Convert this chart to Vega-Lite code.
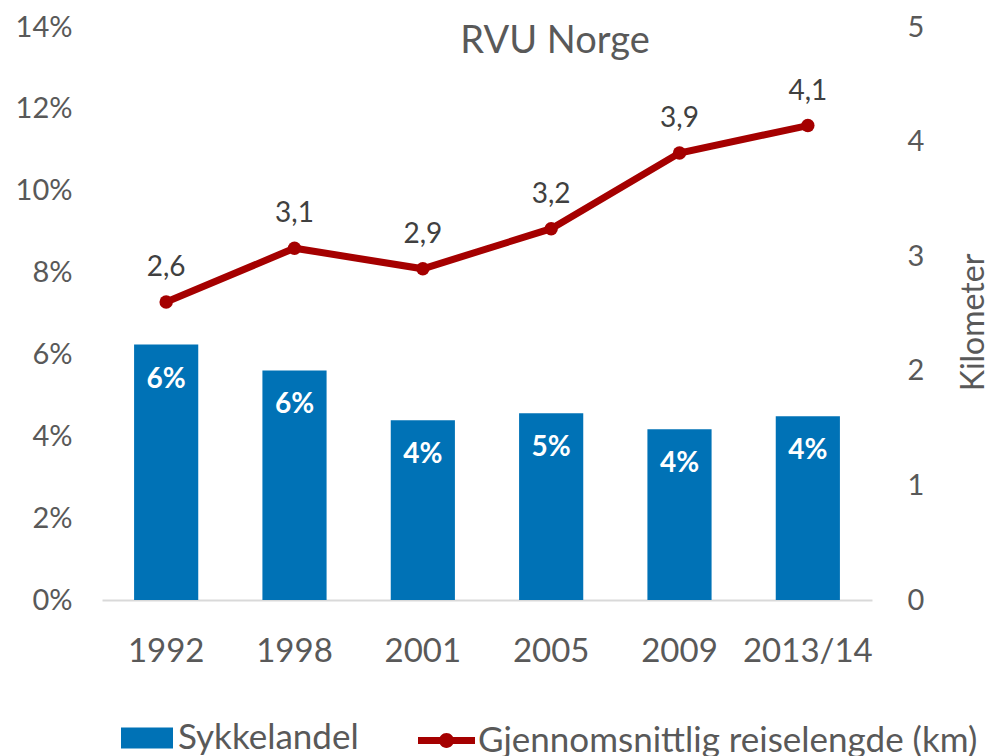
{
  "$schema": "https://vega.github.io/schema/vega-lite/v6.json",
  "autosize": "none",
  "width": 770,
  "height": 573,
  "padding": {"left": 102, "top": 27, "right": 115, "bottom": 156},
  "title": {"text": "RVU Norge", "fontSize": 38, "font": "Lato", "fontWeight": "normal", "color": "#595959", "anchor": "middle", "dx": 68, "dy": 78, "baseline": "alphabetic", "offset": 0},
  "data": {"values": [
    {"year": "1992", "share": 0.0624, "km": 2.60},
    {"year": "1998", "share": 0.0561, "km": 3.07},
    {"year": "2001", "share": 0.0439, "km": 2.89},
    {"year": "2005", "share": 0.0456, "km": 3.24},
    {"year": "2009", "share": 0.0417, "km": 3.90},
    {"year": "2013/14", "share": 0.0449, "km": 4.14}
  ]},
  "encoding": {
    "x": {"field": "year", "type": "nominal", "sort": null,
      "scale": {"paddingInner": 0.5, "paddingOuter": 0.25},
      "axis": {"title": null, "labelAngle": 0, "labelFontSize": 33, "labelColor": "#595959", "labelPadding": 35, "ticks": false, "domainColor": "#D9D9D9", "domainWidth": 2, "grid": false}}
  },
  "layer": [
    {
      "layer": [
        {
          "mark": {"type": "bar"},
          "encoding": {
            "y": {"field": "share", "type": "quantitative",
              "scale": {"domain": [0, 0.14], "nice": false},
              "axis": {"orient": "left", "title": null, "format": ".0%", "values": [0, 0.02, 0.04, 0.06, 0.08, 0.1, 0.12, 0.14], "labelFontSize": 29, "labelColor": "#595959", "labelPadding": 30, "domain": false, "ticks": false, "grid": false}},
            "fill": {"datum": "Sykkelandel", "type": "nominal",
              "scale": {"domain": ["Sykkelandel"], "range": ["#0072B6"]},
              "legend": {"title": null, "orient": "none", "legendX": 19, "legendY": 685, "padding": 0,
                "symbolType": "M-1,-0.404H1V0.404H-1Z", "symbolSize": 2704, "symbolStrokeWidth": 0,
                "labelFont": "Lato", "labelFontSize": 35, "labelColor": "#595959", "labelOffset": 5, "labelLimit": 0}}
          }
        },
        {
          "mark": {"type": "text", "color": "white", "fontWeight": "bold", "fontSize": 28, "baseline": "alphabetic", "dy": 43},
          "encoding": {
            "y": {"field": "share", "type": "quantitative"},
            "text": {"field": "share", "type": "quantitative", "format": ".0%"}
          }
        }
      ]
    },
    {
      "layer": [
        {
          "mark": {"type": "line", "strokeWidth": 7},
          "encoding": {
            "y": {"field": "km", "type": "quantitative",
              "scale": {"domain": [0, 5], "nice": false},
              "axis": {"orient": "right", "title": "Kilometer", "format": "d", "values": [0, 1, 2, 3, 4, 5], "labelFontSize": 29, "labelColor": "#595959", "labelPadding": 35, "domain": false, "ticks": false, "grid": false,
                "titleFontSize": 32, "titleFontWeight": "normal", "titleColor": "#595959", "titleAngle": 270, "titleX": 86, "titleY": 295, "titleAlign": "center", "titleBaseline": "top"}},
            "stroke": {"datum": "Gjennomsnittlig reiselengde (km)", "type": "nominal",
              "scale": {"domain": ["Gjennomsnittlig reiselengde (km)"], "range": ["#A50000"]},
              "legend": {"title": null, "orient": "none", "legendX": 316, "legendY": 685, "padding": 0,
                "symbolType": "M-1,-0.12H1V0.12H-1Z M0.26,0 A0.26,0.26 0 1 1 -0.26,0 A0.26,0.26 0 1 1 0.26,0 Z", "symbolSize": 3249, "symbolStrokeWidth": 0, "symbolFillColor": "#A50000",
                "labelFont": "Lato", "labelFontSize": 35, "labelColor": "#595959", "labelOffset": 3, "labelLimit": 0,
                "encode": {"symbols": {"update": {"fill": {"value": "#A50000"}, "strokeWidth": {"value": 0}}}}}}
          }
        },
        {
          "mark": {"type": "point", "filled": true, "size": 180, "color": "#A50000", "opacity": 1},
          "encoding": {
            "y": {"field": "km", "type": "quantitative"}
          }
        },
        {
          "mark": {"type": "text", "color": "#404040", "fontSize": 28, "baseline": "alphabetic", "dy": -26},
          "encoding": {
            "y": {"field": "km", "type": "quantitative"},
            "text": {"field": "km", "type": "quantitative", "format": ".1f"}
          }
        }
      ]
    }
  ],
  "resolve": {"scale": {"y": "independent"}},
  "config": {
    "font": "Lato",
    "view": {"stroke": null},
    "locale": {"number": {"decimal": ",", "thousands": " ", "grouping": [3], "currency": ["", " kr"]}}
  }
}
